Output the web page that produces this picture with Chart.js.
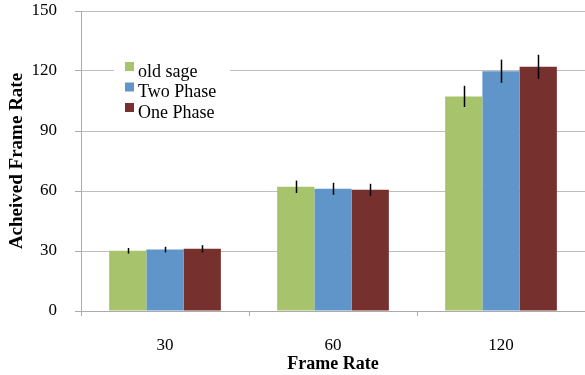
<!DOCTYPE html>
<html>
<head>
<meta charset="utf-8">
<script src="https://cdn.jsdelivr.net/npm/chart.js@4"></script>
<style>
  body { margin: 0; background: #fff; }
  canvas { display: block; }
</style>
</head>
<body>
<canvas id="chart" width="585" height="375"></canvas>
<script>
// values
var categories = ['30', '60', '120'];
var seriesNames = ['old sage', 'Two Phase', 'One Phase'];
var oldSage = [30.1, 62.1, 107.3];
var twoPhase = [30.7, 61.1, 119.9];
var onePhase = [31.1, 60.6, 122.1];
var oldSageErr = [1.4, 3.1, 5.3];
var twoPhaseErr = [1.4, 3.0, 5.8];
var onePhaseErr = [1.8, 3.0, 6.0];
var yTicks = [0, 30, 60, 90, 120, 150];

var serif = "'Liberation Serif', 'Times New Roman', serif";
var colors = ['#A7C36B', '#5F95C9', '#76302D'];

// draws the error bars on top of the bars
var errorBars = {
    id: 'errorBars',
    afterDatasetsDraw: function(chart) {
        var ctx = chart.ctx;
        var yScale = chart.scales.y;
        ctx.save();
        ctx.strokeStyle = '#000';
        ctx.lineWidth = 1.5;
        chart.data.datasets.forEach(function(ds, i) {
            var meta = chart.getDatasetMeta(i);
            meta.data.forEach(function(bar, j) {
                var v = ds.data[j];
                var e = ds.errors[j];
                var x = Math.round(bar.x) + 0.5;
                ctx.beginPath();
                ctx.moveTo(x, yScale.getPixelForValue(v + e));
                ctx.lineTo(x, yScale.getPixelForValue(v - e));
                ctx.stroke();
            });
        });
        ctx.restore();
    }
};

// legend sits inside the plot with a white box over the grid line
var boxLegend = {
    id: 'boxLegend',
    beforeDatasetsDraw: function(chart) {
        var ctx = chart.ctx;
        ctx.save();
        ctx.fillStyle = '#fff';
        ctx.fillRect(114, 56, 116, 68);
        ctx.font = '18px ' + serif;
        ctx.textBaseline = 'alphabetic';
        chart.data.datasets.forEach(function(ds, i) {
            var top = 62 + i * 20.5;
            ctx.fillStyle = ds.backgroundColor;
            ctx.fillRect(125, top, 9, 9);
            ctx.fillStyle = '#000';
            ctx.fillText(ds.label, 138, top + 14.5);
        });
        ctx.restore();
    }
};

var allData = [oldSage, twoPhase, onePhase];
var allErr = [oldSageErr, twoPhaseErr, onePhaseErr];
var datasets = [];
for (var i = 0; i < seriesNames.length; i++) {
    datasets.push({
        label: seriesNames[i],
        data: allData[i],
        errors: allErr[i],
        backgroundColor: colors[i],
        borderWidth: 0,
        barPercentage: 1.0,
        categoryPercentage: 0.665
    });
}

var myChart = new Chart(document.getElementById('chart'), {
    type: 'bar',
    data: {
        labels: categories,
        datasets: datasets
    },
    options: {
        responsive: false,
        animation: false,
        layout: { padding: { top: 11, right: 0, bottom: 0, left: 0 } },
        plugins: {
            legend: { display: false },
            tooltip: { enabled: false }
        },
        scales: {
            x: {
                grid: {
                    drawOnChartArea: false,
                    drawTicks: true,
                    tickLength: 5,
                    color: '#ABABAB'
                },
                border: { color: '#ABABAB', width: 1 },
                ticks: {
                    color: '#000',
                    padding: 19,
                    font: { family: serif, size: 17 }
                },
                title: {
                    display: true,
                    text: 'Frame Rate',
                    color: '#000',
                    font: { family: serif, size: 18, weight: 'bold' },
                    padding: { top: 0, bottom: 0 }
                },
                afterFit: function(scale) {
                    scale.height = 64;
                    scale.paddingLeft = 0;
                    scale.paddingRight = 0;
                }
            },
            y: {
                min: 0,
                max: 150,
                afterBuildTicks: function(scale) {
                    scale.ticks = yTicks.map(function(v) { return { value: v }; });
                },
                grid: {
                    color: '#BEBEBE',
                    tickLength: 6,
                    tickColor: '#ABABAB'
                },
                border: { color: '#ABABAB', width: 1 },
                ticks: {
                    color: '#000',
                    padding: 18,
                    font: { family: serif, size: 17 }
                },
                title: {
                    display: true,
                    text: 'Acheived Frame Rate',
                    color: '#000',
                    font: { family: serif, size: 19, weight: 'bold' },
                    padding: { top: 6, bottom: 0 }
                },
                afterFit: function(scale) {
                    scale.width = 81;
                    scale.paddingTop = 0;
                    scale.paddingBottom = 0;
                }
            }
        }
    },
    plugins: [boxLegend, errorBars]
});
</script>
</body>
</html>
